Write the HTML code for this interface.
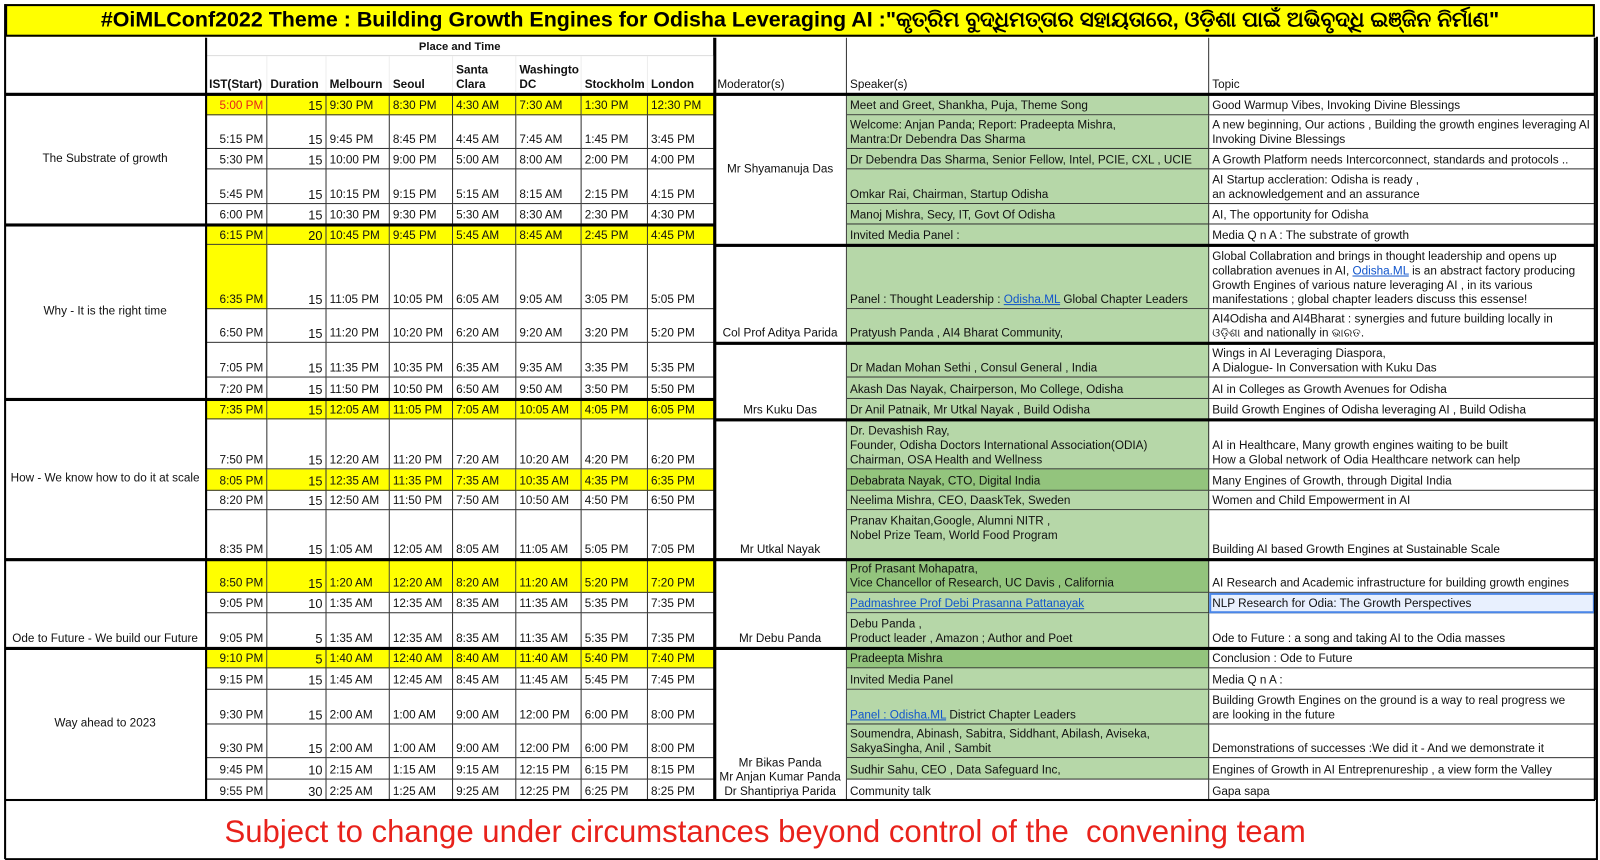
<!DOCTYPE html>
<html><head><meta charset="utf-8">
<style>
body{margin:0;background:#fff;width:1600px;height:860px;position:relative;overflow:hidden;font-family:"Liberation Sans",Arial,sans-serif;}
#wrap{position:absolute;left:0;top:0;width:1568px;height:843px;transform:scale(1.0204);transform-origin:0 0;}
.c{position:absolute;box-sizing:border-box;font-size:11.5px;line-height:14px;color:#111;display:flex;align-items:flex-end;padding:0 3px 1px 3px;overflow:hidden;border-right:1px solid #333;border-bottom:1px solid #333;}
.c>div{white-space:pre-line;}
.r{justify-content:flex-end;text-align:right}
.ctr{justify-content:center;text-align:center}
.mid{align-items:center}
a{color:#1155cc;text-decoration:underline}
.h{position:absolute;background:#000}
</style></head><body>
<div id="wrap">
<div style="position:absolute;left:5px;top:4px;width:1558px;height:32px;background:#ffff00;border:2px solid #000;box-sizing:border-box;text-align:center;font-weight:bold;font-size:21px;line-height:28px;white-space:nowrap;">#OiMLConf2022 Theme : Building Growth Engines for Odisha Leveraging AI :"କୃତ୍ରିମ ବୁଦ୍ଧିମତ୍ତାର ସହାୟତାରେ, ଓଡ଼ିଶା ପାଇଁ ଅଭିବୃଦ୍ଧି ଇଞ୍ଜିନ ନିର୍ମାଣ"</div>
<div id="grid"></div>
<div style="position:absolute;left:220px;top:798px;font-size:30.5px;line-height:34px;color:#e8221b;white-space:nowrap;">Subject to change under circumstances beyond control of the&nbsp; convening team</div>
</div>
<script>
const ist=["5:00 PM","5:15 PM","5:30 PM","5:45 PM","6:00 PM","6:15 PM","6:35 PM","6:50 PM","7:05 PM","7:20 PM","7:35 PM","7:50 PM","8:05 PM","8:20 PM","8:35 PM","8:50 PM","9:05 PM","9:05 PM","9:10 PM","9:15 PM","9:30 PM","9:30 PM","9:45 PM","9:55 PM"];
const dur=[15,15,15,15,15,20,15,15,15,15,15,15,15,15,15,15,10,5,5,15,15,15,10,30];
const mel=["9:30 PM","9:45 PM","10:00 PM","10:15 PM","10:30 PM","10:45 PM","11:05 PM","11:20 PM","11:35 PM","11:50 PM","12:05 AM","12:20 AM","12:35 AM","12:50 AM","1:05 AM","1:20 AM","1:35 AM","1:35 AM","1:40 AM","1:45 AM","2:00 AM","2:00 AM","2:15 AM","2:25 AM"];
const seoul=["8:30 PM","8:45 PM","9:00 PM","9:15 PM","9:30 PM","9:45 PM","10:05 PM","10:20 PM","10:35 PM","10:50 PM","11:05 PM","11:20 PM","11:35 PM","11:50 PM","12:05 AM","12:20 AM","12:35 AM","12:35 AM","12:40 AM","12:45 AM","1:00 AM","1:00 AM","1:15 AM","1:25 AM"];
const sc=["4:30 AM","4:45 AM","5:00 AM","5:15 AM","5:30 AM","5:45 AM","6:05 AM","6:20 AM","6:35 AM","6:50 AM","7:05 AM","7:20 AM","7:35 AM","7:50 AM","8:05 AM","8:20 AM","8:35 AM","8:35 AM","8:40 AM","8:45 AM","9:00 AM","9:00 AM","9:15 AM","9:25 AM"];
const dc=["7:30 AM","7:45 AM","8:00 AM","8:15 AM","8:30 AM","8:45 AM","9:05 AM","9:20 AM","9:35 AM","9:50 AM","10:05 AM","10:20 AM","10:35 AM","10:50 AM","11:05 AM","11:20 AM","11:35 AM","11:35 AM","11:40 AM","11:45 AM","12:00 PM","12:00 PM","12:15 PM","12:25 PM"];
const sth=["1:30 PM","1:45 PM","2:00 PM","2:15 PM","2:30 PM","2:45 PM","3:05 PM","3:20 PM","3:35 PM","3:50 PM","4:05 PM","4:20 PM","4:35 PM","4:50 PM","5:05 PM","5:20 PM","5:35 PM","5:35 PM","5:40 PM","5:45 PM","6:00 PM","6:00 PM","6:15 PM","6:25 PM"];
const lon=["12:30 PM","3:45 PM","4:00 PM","4:15 PM","4:30 PM","4:45 PM","5:05 PM","5:20 PM","5:35 PM","5:50 PM","6:05 PM","6:20 PM","6:35 PM","6:50 PM","7:05 PM","7:20 PM","7:35 PM","7:35 PM","7:40 PM","7:45 PM","8:00 PM","8:00 PM","8:15 PM","8:25 PM"];
const speakers=["Meet and Greet, Shankha, Puja, Theme Song","Welcome: Anjan Panda; Report: Pradeepta Mishra,\nMantra:Dr Debendra Das Sharma","Dr Debendra Das Sharma, Senior Fellow, Intel, PCIE, CXL , UCIE","Omkar Rai, Chairman,  Startup Odisha","Manoj Mishra, Secy, IT, Govt Of Odisha","Invited Media Panel :","Panel : Thought Leadership : <a>Odisha.ML</a> Global Chapter Leaders","Pratyush Panda , AI4 Bharat Community,","Dr Madan Mohan Sethi , Consul General , India","Akash Das Nayak, Chairperson, Mo College, Odisha","Dr Anil Patnaik,  Mr Utkal Nayak , Build Odisha","Dr. Devashish Ray,\nFounder, Odisha Doctors International Association(ODIA)\nChairman, OSA Health and Wellness","Debabrata Nayak, CTO, Digital India","Neelima Mishra, CEO,  DaaskTek, Sweden","Pranav Khaitan,Google, Alumni NITR ,\nNobel Prize Team, World Food Program\n\n","Prof Prasant Mohapatra,\nVice Chancellor of Research, UC Davis , California","<a>Padmashree Prof Debi Prasanna Pattanayak</a>","Debu Panda ,\nProduct leader , Amazon ;  Author and Poet","Pradeepta Mishra","Invited Media Panel","<a>Panel : Odisha.ML</a>  District Chapter Leaders","Soumendra, Abinash, Sabitra, Siddhant, Abilash, Aviseka,\nSakyaSingha, Anil , Sambit","Sudhir Sahu, CEO , Data Safeguard Inc,","Community  talk"];
const topics=["Good Warmup Vibes, Invoking Divine Blessings","A new beginning,  Our actions , Building the growth engines leveraging AI\nInvoking Divine Blessings","A Growth Platform needs Intercorconnect, standards and protocols ..","AI Startup accleration: Odisha is ready ,\nan acknowledgement and an assurance"," AI, The opportunity for Odisha","Media Q n A :  The substrate of growth","Global Collabration and brings in thought leadership and opens up\ncollabration avenues in AI, <a>Odisha.ML</a> is an abstract factory producing\nGrowth Engines  of various nature leveraging AI , in its various\nmanifestations ; global chapter leaders discuss this essense!","AI4Odisha and  AI4Bharat : synergies and future building locally in\nଓଡ଼ିଶା and nationally in ଭାରତ.","Wings in AI Leveraging Diaspora,\nA Dialogue- In Conversation with Kuku Das","AI in Colleges as Growth Avenues for Odisha","Build Growth Engines of Odisha leveraging  AI , Build Odisha","AI in Healthcare, Many growth engines waiting to be built\nHow a Global network of Odia Healthcare network can help","Many Engines of Growth, through Digital India","Women and Child Empowerment in AI","Building AI based Growth Engines at Sustainable Scale","AI Research and Academic infrastructure for building growth engines","NLP Research for Odia: The Growth Perspectives","Ode to Future : a song and taking  AI to the Odia masses","Conclusion :  Ode to Future","Media Q n A :","Building Growth Engines on the ground is a way to real progress we\nare looking in the future","Demonstrations of successes :We did it - And we demonstrate it","Engines of Growth in AI Entreprenureship , a view form the Valley","Gapa sapa"];
const sections=["The Substrate of growth","Why - It is the right time","How - We know how to do it at scale","Ode to Future - We build our Future","Way ahead to 2023"];
const sectionRows=[[0,4],[5,9],[10,14],[15,17],[18,23]];
const moderators=["Mr Shyamanuja Das","Col Prof Aditya Parida","Mrs Kuku Das","Mr Utkal Nayak","Mr Debu Panda","Mr Bikas Panda\nMr Anjan Kumar Panda\nDr Shantipriya Parida"];
const modRows=[[0,5],[6,7],[8,10],[11,14],[15,17],[18,23]];
const highlight=[0,5,10,12,15,18];
const darkGreen=[12,15,18];
const rowTop=[93,113,146,166,200,220,240,303,336,370,391,411,460,481,500,548,581,601,635,655,676,710,743,764,785];
const colX=[5,202,262,320,382,444,506,570,635,700,830,1185,1563];
const g=document.getElementById('grid');
function cell(x1,x2,y1,y2,html,cls,bg){const d=document.createElement('div');d.className='c '+(cls||'');d.style.left=x1+'px';d.style.top=y1+'px';d.style.width=(x2-x1)+'px';d.style.height=(y2-y1)+'px';if(bg)d.style.background=bg;const i=document.createElement('div');i.innerHTML=html;d.appendChild(i);g.appendChild(d);return d;}
let hd=cell(5,202,37,92,'','');


let pt=cell(202,700,37,55,'<b style="font-size:11px">Place and Time</b>','ctr');
pt.style.borderBottom='1px solid #ddd';


const heads=["IST(Start)","Duration","Melbourn","Seoul","Santa\nClara","Washingto\nDC","Stockholm","London"];
for(let i=0;i<8;i++){const h=cell(colX[i+1],colX[i+2],55,92,'<b style="font-size:11.5px">'+heads[i]+'</b>','');h.style.borderRight='1px solid #eee';

}
const rh=[["Moderator(s)",700,830],["Speaker(s)",830,1185],["Topic",1185,1563]];
for(const [t,a,b] of rh){const h=cell(a,b,37,92,t,'');

}
sectionRows.forEach((s,i)=>{const d=cell(5,202,rowTop[s[0]],rowTop[s[1]+1],sections[i],i==3?'ctr':'ctr mid');

});
modRows.forEach((s,i)=>{const d=cell(700,830,rowTop[s[0]],rowTop[s[1]+1],moderators[i],i==0?'ctr mid':'ctr');

});
for(let r=0;r<24;r++){
 const y1=rowTop[r],y2=rowTop[r+1];const hl=highlight.includes(r);const Y=hl?'#ffff00':null;
 const istBg=(hl||r==6)?'#ffff00':null;
 const vals=[ist[r],dur[r],mel[r],seoul[r],sc[r],dc[r],sth[r],lon[r]];
 for(let c=0;c<8;c++){const d=cell(colX[c+1],colX[c+2],y1,y2,String(vals[c]),c<2?'r':'',c==0?istBg:Y);
  if(c==0&&r==0)d.style.color='#e8221b';
  if(c==1)d.style.fontSize='12.5px';
  
  }
 const sp=cell(830,1185,y1,y2,speakers[r],'',r==23?null:(darkGreen.includes(r)?'#93c47d':'#b6d7a8'));
 
 
 const tp=cell(1185,1563,y1,y2,topics[r],'');
 if(r==16){tp.style.background='#e8f0fe';tp.style.outline='2px solid #4a86e8';tp.style.outlineOffset='-2px';}
 
 
}
function hline(x1,x2,y,t){const d=document.createElement('div');d.className='h';d.style.left=x1+'px';d.style.top=(y-1)+'px';d.style.width=(x2-x1)+'px';d.style.height=t+'px';g.appendChild(d);}
function vline(x,y1,y2,t){const d=document.createElement('div');d.className='h';d.style.left=(x-1)+'px';d.style.top=y1+'px';d.style.width=t+'px';d.style.height=(y2-y1)+'px';g.appendChild(d);}
hline(5,1563,92,3);
[220,391,548,635].forEach(y=>hline(5,700,y,3));
[240,336,411,548,635].forEach(y=>hline(700,1563,y,3));
hline(5,1563,784,2);
vline(202,37,784,2);vline(700,37,784,3);vline(1563,37,784,2);vline(5,4,842,2);
hline(5,1565,842,2);vline(1565,36,843,2);
</script>
</body></html>
